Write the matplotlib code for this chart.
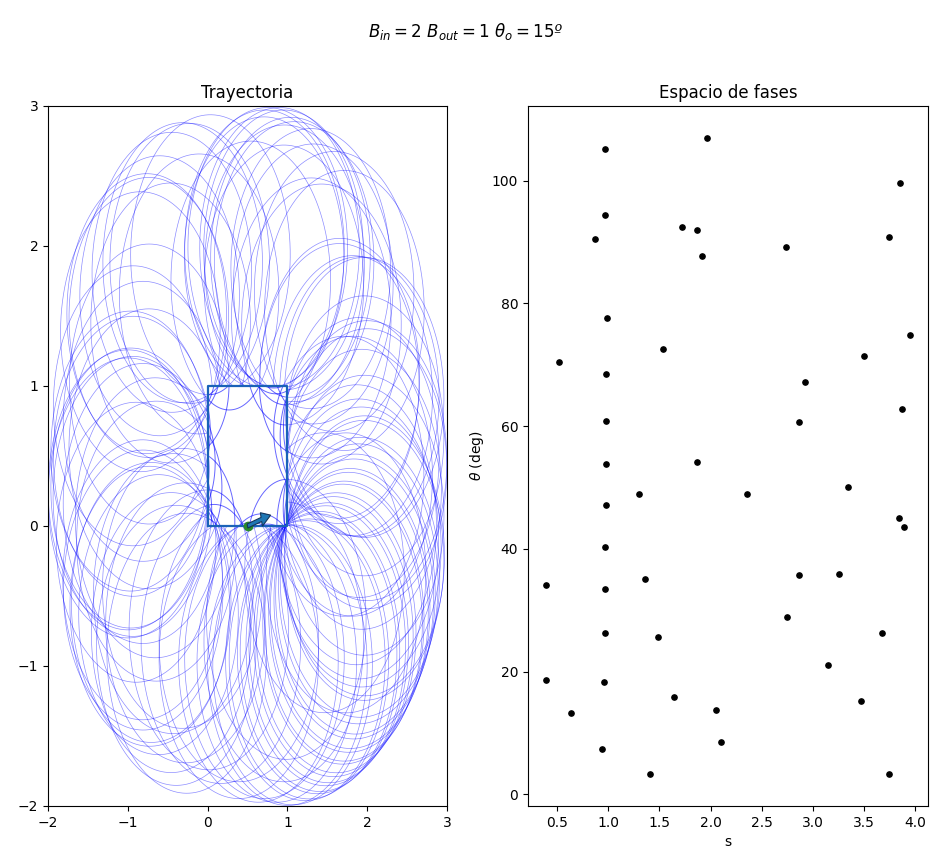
import numpy as np
import matplotlib
matplotlib.use("Agg")
import matplotlib.pyplot as plt

# campos y condicion inicial
B_in = 2
B_out = 1
theta_0 = 15
x_0, y_0 = 0.5, 0.0

# espacio de fases: (s, theta) en cada entrada a la caja
s_pts = [0.965, 1.966, 3.853, 0.965, 0.868, 1.722, 1.865, 1.920, 2.732, 3.742,
         0.992, 3.944, 0.522, 1.532, 3.497, 0.979, 2.921, 3.872, 0.979, 2.865,
         0.979, 1.865, 3.341, 1.301, 2.353, 0.979, 3.839, 3.885, 0.965, 0.392,
         0.965, 1.356, 2.865, 3.253, 2.741, 0.965, 1.490, 3.673, 3.142, 0.392,
         0.956, 1.644, 3.465, 0.637, 2.050, 2.099, 0.936, 1.409, 3.742]
th_pts = [105.2, 107.0, 99.6, 94.4, 90.5, 92.5, 92.0, 87.8, 89.2, 90.9,
          77.7, 74.8, 70.5, 72.6, 71.5, 68.5, 67.2, 62.8, 60.9, 60.7,
          53.9, 54.1, 50.1, 48.9, 48.9, 47.2, 45.0, 43.5, 40.3, 34.2,
          33.5, 35.1, 35.7, 35.9, 28.9, 26.3, 25.7, 26.3, 21.1, 18.7,
          18.3, 15.9, 15.3, 13.3, 13.7, 8.5, 7.4, 3.3, 3.3]

box_x = [0, 1, 1, 0, 0]
box_y = [0, 0, 1, 1, 0]


# s recorre el borde en sentido antihorario desde (0,0)
def borde(s):
    s = s % 4
    if s < 1:
        return np.array([s, 0.0]), 0.0
    if s < 2:
        return np.array([1.0, s - 1]), np.pi / 2
    if s < 3:
        return np.array([3 - s, 1.0]), np.pi
    return np.array([0.0, 4 - s]), 3 * np.pi / 2


def dentro(q):
    return (q[:, 0] > 0) & (q[:, 0] < 1) & (q[:, 1] > 0) & (q[:, 1] < 1)


# arco de circunferencia (sg=-1 horario) hasta volver a cruzar el borde
def arco(p, a, r, sg, interior):
    c = p + r * sg * np.array([-np.sin(a), np.cos(a)])
    phi0 = np.arctan2(p[1] - c[1], p[0] - c[0])
    t = np.linspace(0, 2 * np.pi, 3000)
    phi = phi0 + sg * t
    q = c + r * np.column_stack([np.cos(phi), np.sin(phi)])
    fuera = np.where(dentro(q[5:]) != interior)[0]
    n = fuera[0] + 6 if len(fuera) else len(q)
    return q[:n], phi[n - 1] + sg * np.pi / 2


fig = plt.figure(figsize=(9.31, 8.52), dpi=100)
fig.suptitle(r'$B_{in} = %d\ B_{out} = %d\ \theta_o = %dº$' % (B_in, B_out, theta_0),
             y=0.975)

ax1 = fig.add_axes([0.0516, 0.054, 0.4285, 0.8216])
ax2 = fig.add_axes([0.567, 0.054, 0.4296, 0.8216])

for s, th in zip(s_pts, th_pts):
    p, tg = borde(s)
    a = tg + np.radians(th)
    # lazo exterior que llega al punto, arco interior y lazo siguiente
    q_prev, _ = arco(p, a + np.pi, 1 / B_out, 1, False)
    q_in, a_sal = arco(p, a, 1 / B_in, -1, True)
    q_next, _ = arco(q_in[-1], a_sal, 1 / B_out, -1, False)
    ax1.plot(q_prev[:, 0], q_prev[:, 1], 'b', lw=0.5, alpha=0.45)
    ax1.plot(q_next[:, 0], q_next[:, 1], 'b', lw=0.5, alpha=0.45)
    ax1.plot(q_in[:, 0], q_in[:, 1], 'b', lw=0.7, alpha=0.6, zorder=2.5)

ax1.plot(box_x, box_y, color='#1a62b8', lw=1.6, zorder=2.6)
ax1.plot(x_0, y_0, 'o', color='#2a8a2a', ms=6, zorder=2.7)
ax1.arrow(x_0, y_0, 0.3 * np.cos(np.radians(theta_0)), 0.3 * np.sin(np.radians(theta_0)),
          width=0.03, head_width=0.1, head_length=0.12, length_includes_head=True,
          fc='C0', ec='#15355a', lw=0.8, zorder=3)
ax1.set_xlim(-2, 3)
ax1.set_ylim(-2, 3)
ax1.set_title('Trayectoria')

ax2.plot(s_pts, th_pts, 'ko', ms=3.8)
ax2.set_xlabel('s')
ax2.set_ylabel(r'$\theta$ (deg)')
ax2.set_title('Espacio de fases')

fig.savefig('out.png')
